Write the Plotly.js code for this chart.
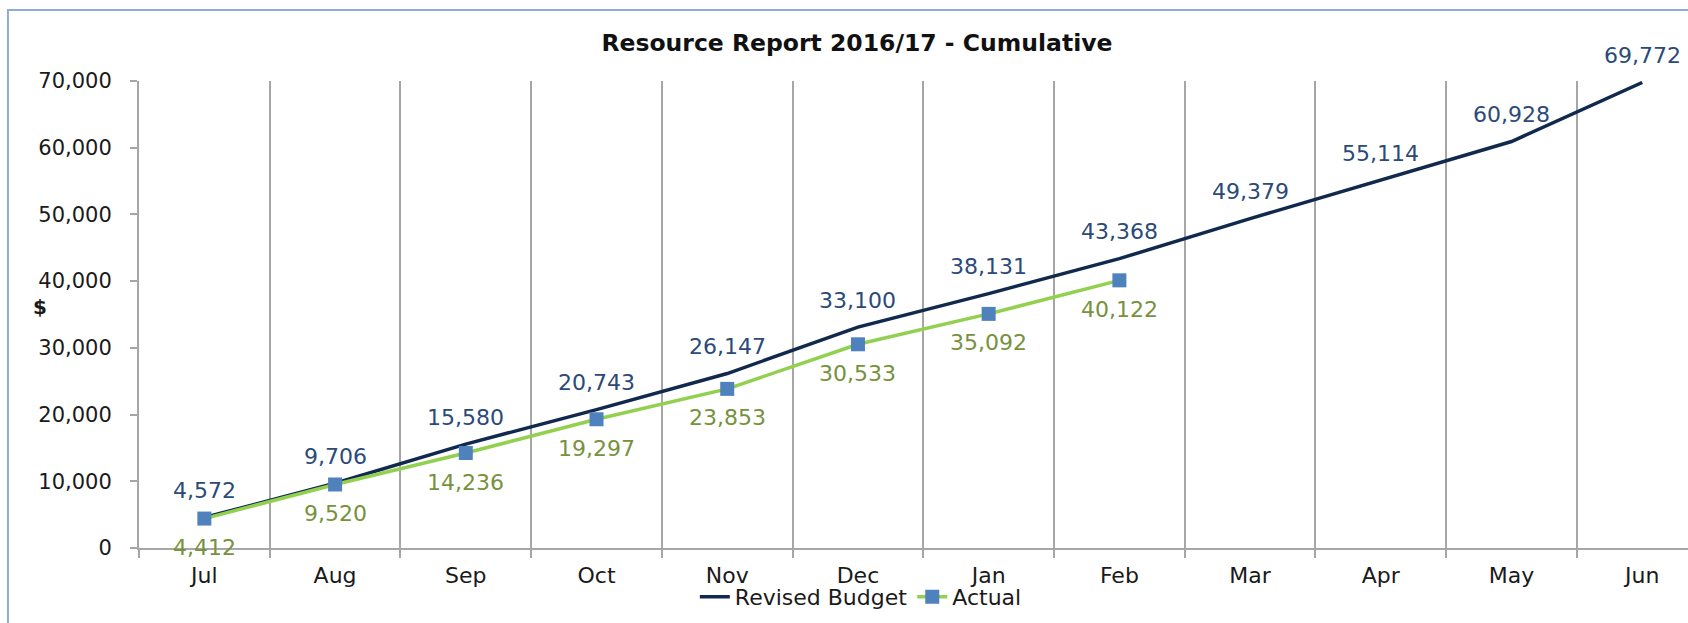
<!DOCTYPE html>
<html>
<head>
<meta charset="utf-8">
<script src="https://cdn.plot.ly/plotly-3.0.1.min.js"></script>
<style>
  html, body { margin: 0; padding: 0; background: #ffffff; }
  #chart { width: 1688px; height: 623px; }
</style>
</head>
<body>
<div id="chart"></div>
<script>
// ---- Data ----
const months = ["Jul", "Aug", "Sep", "Oct", "Nov", "Dec", "Jan", "Feb", "Mar", "Apr", "May", "Jun"];
const revisedBudget = [4572, 9706, 15580, 20743, 26147, 33100, 38131, 43368, 49379, 55114, 60928, 69772];
const actualMonths = ["Jul", "Aug", "Sep", "Oct", "Nov", "Dec", "Jan", "Feb"];
const actual = [4412, 9520, 14236, 19297, 23853, 30533, 35092, 40122];
const yTickValues = [0, 10000, 20000, 30000, 40000, 50000, 60000, 70000];

const FONT = "DejaVu Sans, Verdana, sans-serif";
const budgetColor = "#10294D";
const actualLine = "#92D050";
const actualMarker = "#4F81BD";
const budgetLabelColor = "#2B4A78";
const actualLabelColor = "#76923C";
const gridColor = "#A6A6A6";

const fmt = v => v.toLocaleString("en-US");

const traces = [
  {
    type: "scatter",
    mode: "lines",
    name: "Revised Budget",
    x: months,
    y: revisedBudget,
    line: { color: budgetColor, width: 3.5 },
    cliponaxis: false
  },
  {
    type: "scatter",
    mode: "lines+markers",
    name: "Actual",
    x: actualMonths,
    y: actual,
    line: { color: actualLine, width: 3.5 },
    marker: { symbol: "square", size: 14, color: actualMarker, line: { width: 0 } },
    cliponaxis: false
  }
];

const annotations = [];
months.forEach((m, i) => {
  annotations.push({
    x: m, y: revisedBudget[i], xref: "x", yref: "y",
    text: fmt(revisedBudget[i]), showarrow: false,
    xanchor: "center", yanchor: "middle", yshift: 27,
    font: { family: FONT, size: 22, color: budgetLabelColor }
  });
});
actualMonths.forEach((m, i) => {
  annotations.push({
    x: m, y: actual[i], xref: "x", yref: "y",
    text: fmt(actual[i]), showarrow: false,
    xanchor: "center", yanchor: "middle", yshift: -29,
    font: { family: FONT, size: 22, color: actualLabelColor }
  });
});
annotations.push({
  xref: "paper", yref: "paper", x: -0.064, y: 0.516,
  text: "<b>$</b>", showarrow: false, xanchor: "center", yanchor: "middle",
  font: { family: FONT, size: 20, color: "#1a1a1a" }
});

const layout = {
  width: 1688,
  height: 623,
  paper_bgcolor: "#ffffff",
  plot_bgcolor: "#ffffff",
  margin: { l: 139, r: 0, t: 81, b: 75, pad: 0 },
  font: { family: FONT, size: 22, color: "#1a1a1a" },
  title: {
    text: "<b>Resource Report 2016/17 - Cumulative</b>",
    font: { family: FONT, size: 23.5, color: "#111111" },
    xref: "paper", x: 0.4635, xanchor: "center",
    yref: "container", y: 0.931, yanchor: "middle"
  },
  xaxis: {
    type: "category",
    categoryorder: "array",
    categoryarray: months,
    range: [-0.5, 11.35],
    tickson: "boundaries",
    showgrid: true,
    gridcolor: gridColor,
    gridwidth: 2,
    showline: true,
    linecolor: gridColor,
    linewidth: 2,
    ticks: "outside",
    ticklen: 8,
    tickwidth: 2,
    tickcolor: gridColor,
    ticklabelstandoff: 7,
    tickfont: { family: FONT, size: 22, color: "#1a1a1a" },
    zeroline: false,
    fixedrange: true
  },
  yaxis: {
    range: [0, 70000],
    tickvals: yTickValues,
    ticktext: yTickValues.map(fmt),
    showgrid: false,
    zeroline: false,
    showline: true,
    linecolor: gridColor,
    linewidth: 2,
    ticks: "outside",
    ticklen: 7,
    tickwidth: 2,
    tickcolor: gridColor,
    ticklabelstandoff: 14,
    tickfont: { family: FONT, size: 21, color: "#1a1a1a" },
    fixedrange: true
  },
  showlegend: true,
  legend: {
    orientation: "h",
    xref: "paper", yref: "paper",
    x: 0.466, xanchor: "center",
    y: -0.105, yanchor: "middle",
    font: { family: FONT, size: 22, color: "#1a1a1a" },
    bgcolor: "rgba(0,0,0,0)",
    itemwidth: 30,
    tracegroupgap: 0
  },
  shapes: [
    {
      type: "rect", xref: "paper", yref: "paper",
      x0: -0.0846, x1: 1.05, y0: -0.3, y1: 1.152,
      line: { color: "#8FAADC", width: 2 },
      fillcolor: "rgba(0,0,0,0)",
      layer: "below"
    }
  ],
  annotations: annotations,
  hovermode: false
};

Plotly.newPlot("chart", traces, layout, { displayModeBar: false, staticPlot: true });
</script>
</body>
</html>
